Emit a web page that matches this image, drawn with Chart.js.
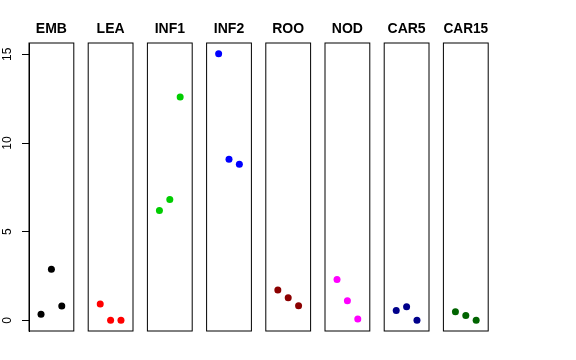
<!DOCTYPE html>
<html>
<head>
<meta charset="utf-8">
<script src="https://cdn.jsdelivr.net/npm/chart.js@4"></script>
<style>
  html, body { margin: 0; padding: 0; background: #fff; }
  #wrap { position: relative; width: 576px; height: 360px; background: #fff; }
  #wrap canvas { position: absolute; left: 0; top: 0; }
</style>
</head>
<body>
<div id="wrap"></div>
<script>
// ---- data ----
const categories = ['EMB', 'LEA', 'INF1', 'INF2', 'ROO', 'NOD', 'CAR5', 'CAR15'];
const EMB   = [0.34, 2.88, 0.81];
const LEA   = [0.92, 0.00, 0.00];
const INF1  = [6.20, 6.82, 12.60];
const INF2  = [15.04, 9.08, 8.80];
const ROO   = [1.71, 1.28, 0.82];
const NOD   = [2.31, 1.11, 0.07];
const CAR5  = [0.56, 0.77, 0.00];
const CAR15 = [0.49, 0.28, 0.00];
const seriesValues = [EMB, LEA, INF1, INF2, ROO, NOD, CAR5, CAR15];
const replicates = [1, 2, 3];
const yTicks = [0, 5, 10, 15];

// ---- styles / layout ----
const colors = ['#000000', '#FF0000', '#00CD00', '#0000FF', '#8B0000', '#FF00FF', '#00008B', '#006400'];
const W = 576, H = 360;
const panelTop = 43, panelBottom = 331;
const firstLeft = 29, panelStep = 59.2, panelWidth = 44.8;
const axisWidth = 29;
const yMin = -0.6, yMax = 15.64;
const FONT = '"Liberation Sans", Arial, Helvetica, sans-serif';

const boxPlugin = {
  id: 'panelBox',
  afterDraw(chart) {
    const a = chart.chartArea;
    const ctx = chart.ctx;
    ctx.save();
    ctx.strokeStyle = '#000';
    ctx.lineWidth = 1;
    ctx.strokeRect(a.left, a.top, a.right - a.left, a.bottom - a.top);
    ctx.restore();
  }
};

const wrap = document.getElementById('wrap');
function makeCanvas() {
  const c = document.createElement('canvas');
  c.width = W; c.height = H;
  c.style.width = W + 'px'; c.style.height = H + 'px';
  wrap.appendChild(c);
  return c;
}

// y-axis chart (no data)
new Chart(makeCanvas(), {
  type: 'scatter',
  data: { datasets: [{ data: [] }] },
  options: {
    responsive: false,
    animation: false,
    events: [],
    layout: { padding: { left: 0, right: W - (firstLeft + panelWidth), top: panelTop, bottom: H - panelBottom } },
    plugins: { legend: { display: false }, tooltip: { enabled: false } },
    scales: {
      x: { type: 'linear', display: false, min: -0.16, max: 4.16 },
      y: {
        type: 'linear',
        min: yMin,
        max: yMax,
        afterFit(scale) { scale.width = axisWidth; },
        afterBuildTicks(scale) { scale.ticks = yTicks.map(v => ({ value: v })); },
        ticks: {
          minRotation: 90,
          maxRotation: 90,
          crossAlign: 'center',
          padding: 8,
          color: '#000',
          font: { family: FONT, size: 12 }
        },
        grid: { display: true, drawOnChartArea: false, drawTicks: true, tickLength: 7, color: '#000', lineWidth: 1 },
        border: { display: true, color: '#000', width: 1 }
      }
    }
  }
});

categories.forEach((cat, i) => {
  const left = firstLeft + panelStep * i;
  const right = left + panelWidth;
  new Chart(makeCanvas(), {
    type: 'scatter',
    data: {
      datasets: [{
        data: seriesValues[i].map((v, k) => ({ x: replicates[k], y: v })),
        backgroundColor: colors[i],
        borderColor: colors[i],
        borderWidth: 0,
        pointRadius: 3.5,
        pointHoverRadius: 3.5
      }]
    },
    options: {
      responsive: false,
      animation: false,
      events: [],
      layout: { padding: { left: left, right: W - right, top: 0, bottom: H - panelBottom } },
      plugins: {
        legend: { display: false },
        tooltip: { enabled: false },
        title: {
          display: true,
          text: cat,
          color: '#000',
          font: { family: FONT, size: 14, weight: 'bold', lineHeight: 1.2 },
          padding: { top: 20.6, bottom: panelTop - 20.6 - 14 * 1.2 }
        }
      },
      scales: {
        x: { type: 'linear', display: false, min: -0.16, max: 4.16 },
        y: { type: 'linear', display: false, min: yMin, max: yMax }
      }
    },
    plugins: [boxPlugin]
  });
});
</script>
</body>
</html>
